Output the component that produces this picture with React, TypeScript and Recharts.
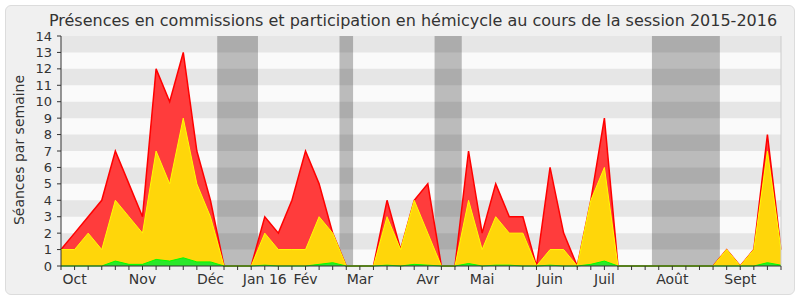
import React from 'react';
import { AreaChart, Area, XAxis, YAxis, ReferenceArea, ReferenceLine } from 'recharts';

// one point per week, session 2015-2016 (index 0 = first week of October)
const weeks: number[] = Array.from({ length: 54 }, (_, i) => i);

const totalSeances = [
  1, 2, 3, 4, 7, 5, 3, 12, 10, 13, 7, 4, 0, 0, 0, 3, 2, 4, 7, 5, 2, 0, 0, 0, 4, 1, 4,
  5, 0, 0, 7, 2, 5, 3, 3, 0, 6, 2, 0, 4, 9, 0, 0, 0, 0, 0, 0, 0, 0, 1, 0, 1, 8, 1,
];
const commissions = [
  1, 1, 2, 1, 4, 3, 2, 7, 5, 9, 5, 3, 0, 0, 0, 2, 1, 1, 1, 3, 2, 0, 0, 0, 3, 1, 4,
  2, 0, 0, 4, 1, 3, 2, 2, 0, 1, 1, 0, 4, 6, 0, 0, 0, 0, 0, 0, 0, 0, 1, 0, 1, 7, 1,
];
const hemicycle = [
  0, 0, 0, 0, 0.3, 0.1, 0.1, 0.4, 0.3, 0.5, 0.25, 0.25, 0, 0, 0, 0.05, 0, 0, 0, 0.1, 0.2, 0, 0, 0, 0.05, 0, 0.1,
  0.05, 0, 0, 0.15, 0, 0.05, 0.05, 0, 0, 0.05, 0, 0, 0.1, 0.3, 0, 0, 0, 0, 0, 0, 0, 0, 0, 0, 0, 0.2, 0.05,
];

const monthLabels: Record<number, string> = {
  1: 'Oct', 6: 'Nov', 11: 'Déc', 15: 'Jan 16', 18: 'Fév', 22: 'Mar',
  27: 'Avr', 31: 'Mai', 36: 'Juin', 40: 'Juil', 45: 'Août', 50: 'Sept',
};

// vacances parlementaires
const vacances: [number, number][] = [[11.5, 14.5], [20.5, 21.5], [27.5, 29.5], [43.5, 48.5]];

const yTicks = [0, 1, 2, 3, 4, 5, 6, 7, 8, 9, 10, 11, 12, 13, 14];

const data = weeks.map((w, i) => ({
  week: w,
  total: totalSeances[i],
  commission: commissions[i],
  hemicycle: hemicycle[i],
}));

const FONT = '"DejaVu Sans", sans-serif';

const MonthTick = (props: any) => {
  const { x, y, payload } = props;
  const label = monthLabels[payload.value];
  if (!label) return <g />;
  return (
    <text x={x} y={y} dy={12} textAnchor="middle" fill="#333" fontSize={14} fontFamily={FONT}>
      {label}
    </text>
  );
};

const App: React.FC = () => {
  return (
    <div style={{ position: 'absolute', left: 0, top: 0, width: 800, height: 300, background: '#fff', fontFamily: FONT }}>
      <div style={{ position: 'absolute', left: 5, top: 5, width: 788, height: 288, background: '#f0f0f0', border: '1px solid #dcdcdc', borderRadius: 6 }} />
      <div style={{ position: 'absolute', left: 413, top: 13, transform: 'translateX(-50%)', whiteSpace: 'nowrap', fontSize: 16, lineHeight: '16px', color: '#333' }}>
        Présences en commissions et participation en hémicycle au cours de la session 2015-2016
      </div>
      <div style={{ position: 'absolute', left: 19, top: 150, transform: 'translate(-50%, -50%) rotate(-90deg)', whiteSpace: 'nowrap', fontSize: 14, lineHeight: '14px', color: '#333' }}>
        Séances par semaine
      </div>
      <AreaChart
        width={800}
        height={300}
        data={data}
        margin={{ top: 34, right: 19, bottom: 0, left: 0 }}
        style={{ position: 'absolute', left: 0, top: 0 }}
      >
        <XAxis
          dataKey="week"
          type="number"
          domain={[0, 53]}
          ticks={weeks}
          interval={0}
          height={34}
          tickSize={4}
          tickMargin={2}
          tick={<MonthTick />}
          stroke="#333"
          tickLine={{ stroke: '#333' }}
        />
        <XAxis
          xAxisId="top"
          orientation="top"
          dataKey="week"
          type="number"
          domain={[0, 53]}
          ticks={weeks}
          interval={0}
          height={2}
          tickSize={2}
          tick={false}
          axisLine={false}
          tickLine={{ stroke: '#333' }}
        />
        <YAxis
          type="number"
          domain={[0, 14]}
          ticks={yTicks}
          interval={0}
          width={61}
          tickSize={4}
          tickMargin={5}
          stroke="#333"
          tick={{ fill: '#333', fontSize: 13, fontFamily: FONT }}
        />
        <ReferenceArea y1={0} y2={14} fill="#fafafa" fillOpacity={1} stroke="none" ifOverflow="hidden" />
        {yTicks.slice(0, -1).filter((t) => t % 2 === 1).map((t) => (
          <ReferenceArea key={'s' + t} y1={t} y2={t + 1} fill="#e6e6e6" fillOpacity={1} stroke="none" />
        ))}
        {vacances.map(([a, b]) => (
          <ReferenceArea key={'v' + a} x1={a} x2={b} fill="#000" fillOpacity={0.25} stroke="none" />
        ))}
        <ReferenceLine x={53} stroke="#cccccc" />
        <Area type="linear" dataKey="total" stroke="#ff0000" strokeWidth={1.5} fill="#ff3c3c" fillOpacity={1} isAnimationActive={false} dot={false} activeDot={false} />
        <Area type="linear" dataKey="commission" stroke="#ffff00" strokeWidth={1} fill="#ffd60a" fillOpacity={1} isAnimationActive={false} dot={false} activeDot={false} />
        <Area type="linear" dataKey="hemicycle" stroke="#00ff00" strokeWidth={1} fill="#2ae82a" fillOpacity={1} isAnimationActive={false} dot={false} activeDot={false} />
      </AreaChart>
    </div>
  );
};

export default App;
